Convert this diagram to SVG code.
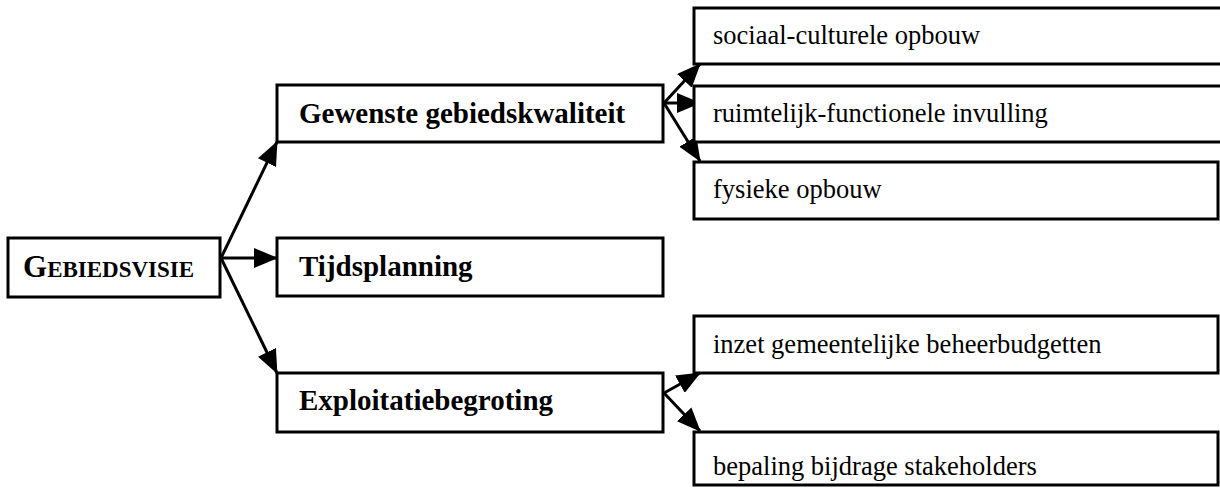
<svg xmlns="http://www.w3.org/2000/svg" width="1220" height="488" viewBox="0 0 1220 488">
<defs>
<marker id="ah" markerWidth="24" markerHeight="20" refX="23" refY="10" orient="auto" markerUnits="userSpaceOnUse">
<path d="M0,0 L24,10 L0,20 Z" fill="#000"/>
</marker>
<style>
.box{fill:#fff;stroke:#000;stroke-width:3}
.b{font-family:"Liberation Serif","Times New Roman",serif;font-weight:bold;font-size:29px;fill:#000}
.r{font-family:"Liberation Serif","Times New Roman",serif;font-size:26.5px;fill:#000}
.c{stroke:#000;stroke-width:3;fill:none;marker-end:url(#ah)}
</style>
</defs>
<rect width="1220" height="488" fill="#fff"/>
<g id="connectors">
<line class="c" x1="221" y1="258" x2="277" y2="142"/>
<line class="c" x1="221" y1="258" x2="277" y2="258"/>
<line class="c" x1="221" y1="258" x2="277" y2="373"/>
<line class="c" x1="664" y1="103" x2="700" y2="64"/>
<line class="c" x1="664" y1="103" x2="700" y2="103"/>
<line class="c" x1="664" y1="103" x2="700" y2="161"/>
<line class="c" x1="664" y1="393" x2="700" y2="373"/>
<line class="c" x1="664" y1="393" x2="700" y2="431"/>
</g>
<g id="gebiedsvisie">
<rect class="box" x="8" y="238" width="212" height="59"/>
<text class="b" x="23" y="277"><tspan font-size="31">G</tspan><tspan font-size="23">EBIEDSVISIE</tspan></text>
</g>
<g id="gewenste">
<rect class="box" x="277" y="85" width="386" height="57"/>
<text class="b" x="299" y="123">Gewenste gebiedskwaliteit</text>
</g>
<g id="tijdsplanning">
<rect class="box" x="277" y="238" width="386" height="58"/>
<text class="b" x="299" y="276">Tijdsplanning</text>
</g>
<g id="exploitatie">
<rect class="box" x="277" y="373" width="386" height="59"/>
<text class="b" x="299" y="410">Exploitatiebegroting</text>
</g>
<g id="sociaal">
<rect class="box" x="694" y="8" width="530" height="56"/>
<text class="r" x="713" y="44">sociaal-culturele opbouw</text>
</g>
<g id="ruimtelijk">
<rect class="box" x="694" y="86" width="530" height="56"/>
<text class="r" x="713" y="122">ruimtelijk-functionele invulling</text>
</g>
<g id="fysiek">
<rect class="box" x="694" y="162" width="524" height="57"/>
<text class="r" x="713" y="198">fysieke opbouw</text>
</g>
<g id="inzet">
<rect class="box" x="694" y="316" width="524" height="57"/>
<text class="r" x="713" y="353">inzet gemeentelijke beheerbudgetten</text>
</g>
<g id="bepaling">
<rect class="box" x="694" y="432" width="524" height="53"/>
<text class="r" x="713" y="475">bepaling bijdrage stakeholders</text>
</g>
</svg>
